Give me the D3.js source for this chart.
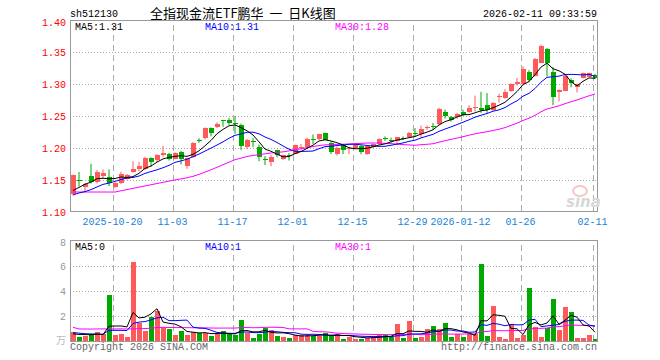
<!DOCTYPE html>
<html>
<head>
<meta charset="utf-8">
<script src="https://cdn.jsdelivr.net/npm/d3@7/dist/d3.min.js"></script>
<style>
  body { margin: 0; background: #fff; }
  svg text { font-family: "Liberation Mono", "DejaVu Sans Mono", monospace; font-size: 10px; }
  .grid-x line { stroke: #aaa; stroke-dasharray: 6,4; shape-rendering: crispEdges; }
  .grid-y line { stroke: #aaa; stroke-dasharray: 1,2; shape-rendering: crispEdges; }
  .grid-x path, .grid-y path { display: none; }
</style>
</head>
<body>
<script>
// trading days shown (2025-10-09 .. 2026-02-11)
var dates = ["10-09","10-10",
  "10-13","10-14","10-15","10-16","10-17",
  "10-20","10-21","10-22","10-23","10-24",
  "10-27","10-28","10-29","10-30","10-31",
  "11-03","11-04","11-05","11-06","11-07",
  "11-10","11-11","11-12","11-13","11-14",
  "11-17","11-18","11-19","11-20","11-21",
  "11-24","11-25","11-26","11-27","11-28",
  "12-01","12-02","12-03","12-04","12-05",
  "12-08","12-09","12-10","12-11","12-12",
  "12-15","12-16","12-17","12-18","12-19",
  "12-22","12-23","12-24","12-25","12-26",
  "12-29","12-30","12-31",
  "01-05","01-06","01-07","01-08","01-09",
  "01-12","01-13","01-14","01-15","01-16",
  "01-19","01-20","01-21","01-22","01-23",
  "01-26","01-27","01-28","01-29","01-30",
  "02-02","02-03","02-04","02-05","02-06",
  "02-09","02-10","02-11"];

var opens = [1.128,1.150,1.139,1.155,1.147,1.156,1.154,1.138,1.144,1.151,
  1.162,1.166,1.167,1.184,1.181,1.189,1.191,1.183,1.193,1.171,
  1.185,1.212,1.215,1.231,1.233,1.243,1.244,1.239,1.236,1.201,
  1.210,1.202,1.182,1.178,1.196,1.183,1.189,1.191,1.200,1.202,
  1.214,1.214,1.223,1.208,1.190,1.204,1.198,1.199,1.203,1.190,
  1.202,1.206,1.215,1.213,1.210,1.216,1.217,1.224,1.221,1.231,
  1.235,1.237,1.257,1.249,1.249,1.257,1.256,1.263,1.263,1.268,
  1.260,1.280,1.279,1.289,1.300,1.300,1.319,1.313,1.334,1.356,
  1.319,1.287,1.290,1.307,1.296,1.310,1.312,1.314];
var highs = [1.158,1.162,1.145,1.175,1.165,1.166,1.166,1.146,1.1625,1.159,
  1.179,1.178,1.186,1.185,1.190,1.203,1.192,1.193,1.195,1.184,
  1.209,1.215,1.232,1.232,1.240,1.244,1.247,1.250,1.238,1.214,
  1.215,1.205,1.187,1.189,1.197,1.189,1.192,1.205,1.206,1.216,
  1.221,1.222,1.224,1.210,1.202,1.206,1.202,1.206,1.204,1.204,
  1.207,1.215,1.218,1.216,1.217,1.218,1.225,1.231,1.235,1.235,
  1.239,1.263,1.260,1.250,1.255,1.260,1.267,1.282,1.288,1.286,
  1.272,1.285,1.292,1.301,1.310,1.328,1.322,1.341,1.362,1.357,
  1.327,1.292,1.315,1.309,1.301,1.318,1.318,1.316];
var lows = [1.125,1.139,1.131,1.144,1.144,1.151,1.140,1.137,1.143,1.150,
  1.161,1.163,1.165,1.170,1.178,1.186,1.180,1.182,1.174,1.167,
  1.184,1.208,1.213,1.218,1.231,1.233,1.236,1.222,1.197,1.198,
  1.201,1.179,1.173,1.171,1.185,1.181,1.180,1.190,1.197,1.200,
  1.206,1.212,1.212,1.190,1.188,1.190,1.190,1.198,1.190,1.189,
  1.201,1.205,1.211,1.208,1.205,1.212,1.216,1.218,1.216,1.228,
  1.229,1.236,1.246,1.241,1.246,1.250,1.255,1.257,1.255,1.254,
  1.258,1.271,1.277,1.288,1.298,1.298,1.303,1.312,1.333,1.312,
  1.267,1.273,1.289,1.295,1.287,1.309,1.311,1.308];
var closes = [1.157,1.149,1.143,1.147,1.162,1.160,1.145,1.145,1.159,1.158,
  1.167,1.171,1.184,1.177,1.189,1.192,1.183,1.192,1.182,1.184,
  1.208,1.211,1.231,1.224,1.237,1.242,1.239,1.238,1.203,1.212,
  1.209,1.185,1.181,1.186,1.189,1.188,1.188,1.204,1.202,1.214,
  1.213,1.221,1.213,1.193,1.200,1.196,1.199,1.205,1.194,1.203,
  1.206,1.214,1.214,1.210,1.217,1.215,1.224,1.223,1.229,1.232,
  1.234,1.261,1.250,1.244,1.253,1.252,1.262,1.264,1.260,1.259,
  1.270,1.282,1.287,1.300,1.303,1.324,1.307,1.340,1.360,1.334,
  1.280,1.291,1.313,1.302,1.300,1.317,1.317,1.310];
// volume, 万手
var volumes = [0.71,0.29,0.37,0.50,0.69,0.53,3.62,0.45,0.53,0.29,
  6.32,1.43,0.77,1.85,2.35,0.98,0.93,0.45,0.77,0.48,
  0.69,0.63,0.58,0.37,0.53,0.77,0.50,0.45,1.64,0.63,
  0.24,0.53,1.03,0.85,0.37,0.29,0.21,0.45,0.48,0.42,
  0.37,0.37,0.61,0.37,0.50,0.16,0.32,0.16,0.16,0.24,
  0.26,0.45,0.42,0.32,1.32,0.21,1.56,0.24,0.32,0.95,
  1.16,0.93,1.40,0.29,0.50,0.29,0.50,0.50,6.16,0.37,
  2.75,0.29,0.13,1.30,0.21,0.45,4.18,1.09,0.29,0.98,
  3.30,0.85,2.67,2.30,0.21,0.21,0.45,0.13];

// 29 sessions before the window, only used to seed the moving averages
var preCloses = [1.149,1.143,1.147,1.162,1.160,1.145,1.145,
  1.100,1.102,1.110,1.114,1.127,1.120,1.132,1.135,1.126,1.135,
  1.132,1.134,1.140,
  1.118,1.122,1.115,1.120,1.120,
  1.125,1.118,1.130,1.135];
var preVolumes = [4.2,0.5,0.6,0.4,0.5,3.6,0.5,0.4,0.6,6.0,
  0.8,0.7,0.9,0.8,0.7,0.9,0.8,0.8,0.7,0.9,
  0.7,0.8,0.7,0.75,0.7,
  0.5,0.45,0.55,0.44];

var tickDates = ["10-20","11-03","11-17","12-01","12-15","12-29","01-12","01-26","02-11"];
var tickLabels = ["2025-10-20","11-03","11-17","12-01","12-15","12-29","2026-01-12","01-26","02-11"];
var priceTicks = [1.10,1.15,1.20,1.25,1.30,1.35,1.40];
var volTicks = [2,4,6,8];

var w = 660, h = 360;
var left = 70, right = 597;
var top1 = 20, bot1 = 211;
var top2 = 240, bot2 = 341;
var red = "#ff5a5a", green = "#00a800";

var svg = d3.select("body").append("svg").attr("width", w).attr("height", h);

var x = d3.scaleLinear().domain([0, dates.length]).range([left, left + 6 * dates.length]);
var y = d3.scaleLinear().domain([1.10, 1.40]).range([bot1 + 0.5, top1 + 0.5]);
var yv = d3.scaleLinear().domain([0, 8]).range([bot2 - 0.5, top2 + 0.5]);

function ma(pre, vals, n) {
  var all = pre.concat(vals), out = [];
  for (var i = pre.length; i < all.length; i++) {
    out.push(d3.mean(all.slice(i - n + 1, i + 1)));
  }
  return out;
}
var ma5 = ma(preCloses, closes, 5), ma10 = ma(preCloses, closes, 10), ma30 = ma(preCloses, closes, 30);
var vma5 = ma(preVolumes, volumes, 5), vma10 = ma(preVolumes, volumes, 10), vma30 = ma(preVolumes, volumes, 30);

var tickIdx = tickDates.map(function(d) { return dates.indexOf(d); });

// grids
function panelGrid(yScale, ticks, y0, y1) {
  svg.append("g").attr("class", "grid-y")
    .attr("transform", "translate(" + left + ",0)")
    .call(d3.axisLeft(yScale).tickValues(ticks).tickSize(-(right - left)).tickFormat(""));
  svg.append("g").attr("class", "grid-x")
    .attr("transform", "translate(0," + y1 + ")")
    .call(d3.axisBottom(x).tickValues(tickIdx).tickSize(-(y1 - y0)).tickFormat(""));
}
panelGrid(y, [1.15,1.20,1.25,1.30,1.35], top1, bot1);
panelGrid(yv, [2,4,6], top2, bot2);
svg.selectAll(".grid-x .tick line").attr("transform", "translate(0.5,0)");

// borders
[[top1, bot1], [top2, bot2]].forEach(function(p) {
  svg.append("rect").attr("x", left + 0.5).attr("y", p[0] + 0.5)
    .attr("width", right - left).attr("height", p[1] - p[0])
    .attr("fill", "none").attr("stroke", "#999");
});

// price labels
svg.selectAll(".plab").data(priceTicks).enter().append("text")
  .attr("x", 66).attr("y", function(d) { return Math.max(y(d) + 4, 26); })
  .attr("text-anchor", "end").attr("fill", "#f00")
  .text(function(d) { return d.toFixed(2); });
svg.selectAll(".vlab").data(volTicks).enter().append("text")
  .attr("x", 66).attr("y", function(d) { return Math.max(yv(d) + 4, 246); })
  .attr("text-anchor", "end").attr("fill", "#999")
  .text(function(d) { return d; });
svg.append("text").attr("x", 66).attr("y", bot2 + 3).attr("text-anchor", "end")
  .attr("fill", "#bbb").style("font-family", "'Noto Sans CJK SC'").style("font-size", "10px")
  .text("万");

// date labels
svg.selectAll(".dlab").data(tickIdx).enter().append("text")
  .attr("x", function(d) { return x(d) + 0.5; }).attr("y", 225)
  .attr("text-anchor", "middle").attr("fill", "#1a82d6")
  .text(function(d, i) { return tickLabels[i]; });

// candles
var data = dates.map(function(d, i) {
  return { i: i, o: opens[i], h: highs[i], l: lows[i], c: closes[i], v: volumes[i] };
});
function col(d) { return d.c >= d.o ? red : green; }

svg.append("clipPath").attr("id", "clipMain")
  .append("rect").attr("x", left + 1).attr("y", top1 + 1).attr("width", right - left - 1).attr("height", bot1 - top1 - 1);
svg.append("clipPath").attr("id", "clipVol")
  .append("rect").attr("x", left + 1).attr("y", top2 + 1).attr("width", right - left - 1).attr("height", bot2 - top2 - 1);

var gMain = svg.append("g").attr("clip-path", "url(#clipMain)");
var gVol = svg.append("g").attr("clip-path", "url(#clipVol)");

gMain.selectAll("line.wick").data(data).enter().append("line")
  .attr("x1", function(d) { return x(d.i) + 3; }).attr("x2", function(d) { return x(d.i) + 3; })
  .attr("y1", function(d) { return y(d.h); }).attr("y2", function(d) { return y(d.l); })
  .attr("stroke", col).attr("stroke-width", 1);
gMain.selectAll("rect.body").data(data).enter().append("rect")
  .attr("x", function(d) { return x(d.i) + 0.5; })
  .attr("y", function(d) { return y(Math.max(d.o, d.c)); })
  .attr("width", 5)
  .attr("height", function(d) { return Math.max(1, Math.abs(y(d.o) - y(d.c))); })
  .attr("fill", col).attr("shape-rendering", "crispEdges");

var lineP = function(arr) {
  return d3.line().x(function(d, i) { return x(i) + 3; }).y(function(d) { return y(d); })(arr);
};
[[ma30, "#f0f"], [ma10, "#00f"], [ma5, "#000"]].forEach(function(m) {
  gMain.append("path").attr("d", lineP(m[0])).attr("fill", "none").attr("stroke", m[1]).attr("stroke-width", 1);
});

// volume
gVol.selectAll("rect.vol").data(data).enter().append("rect")
  .attr("x", function(d) { return x(d.i) + 0.5; })
  .attr("y", function(d) { return yv(d.v); })
  .attr("width", 5)
  .attr("height", function(d) { return yv(0) - yv(d.v); })
  .attr("fill", col).attr("shape-rendering", "crispEdges");
var lineV = function(arr) {
  return d3.line().x(function(d, i) { return x(i) + 3; }).y(function(d) { return yv(d); })(arr);
};
[[vma30, "#f0f"], [vma10, "#00f"], [vma5, "#000"]].forEach(function(m) {
  gVol.append("path").attr("d", lineV(m[0])).attr("fill", "none").attr("stroke", m[1]).attr("stroke-width", 1);
});

// legends
var last = dates.length - 1;
var f2 = d3.format(".2f");
var legP = [["MA5:" + f2(ma5[last]), "#000"], ["MA10:" + f2(ma10[last]), "#00f"], ["MA30:" + f2(ma30[last]), "#f0f"]];
var legV = [["MA5:" + Math.floor(vma5[last]), "#000"], ["MA10:" + Math.floor(vma10[last]), "#00f"], ["MA30:" + Math.floor(vma30[last]), "#f0f"]];
legP.forEach(function(l, i) {
  svg.append("text").attr("x", 75 + 130 * i).attr("y", 30).attr("fill", l[1]).text(l[0]);
});
legV.forEach(function(l, i) {
  svg.append("text").attr("x", 75 + 130 * i).attr("y", 250).attr("fill", l[1]).text(l[0]);
});

// header
svg.append("text").attr("x", 70).attr("y", 17).attr("fill", "#000").text("sh512130");
svg.append("text").attr("x", 150).attr("y", 18).attr("fill", "#000")
  .attr("xml:space", "preserve")
  .style("font-family", "'Noto Sans CJK SC'").style("font-size", "13px")
  .style("white-space", "pre")
  .text("全指现金流ETF鹏华  一  日K线图");
svg.append("text").attr("x", 597).attr("y", 17).attr("text-anchor", "end").attr("fill", "#000")
  .text("2026-02-11 09:33:59");

// footer
svg.append("text").attr("x", 70).attr("y", 350).attr("fill", "#666").text("Copyright 2026 SINA.COM");
svg.append("text").attr("x", 597).attr("y", 350).attr("text-anchor", "end").attr("fill", "#666")
  .text("http://finance.sina.com.cn");

// watermark
svg.append("ellipse").attr("cx", 580).attr("cy", 191).attr("rx", 7).attr("ry", 5)
  .attr("fill", "none").attr("stroke", "#f2c6c6").attr("stroke-width", 2);
svg.append("text").attr("x", 566).attr("y", 207).attr("fill", "#d8d8d8")
  .style("font-family", "'DejaVu Sans'").style("font-size", "15px").style("font-weight", "bold").style("font-style", "italic")
  .text("sina");
</script>
</body>
</html>
